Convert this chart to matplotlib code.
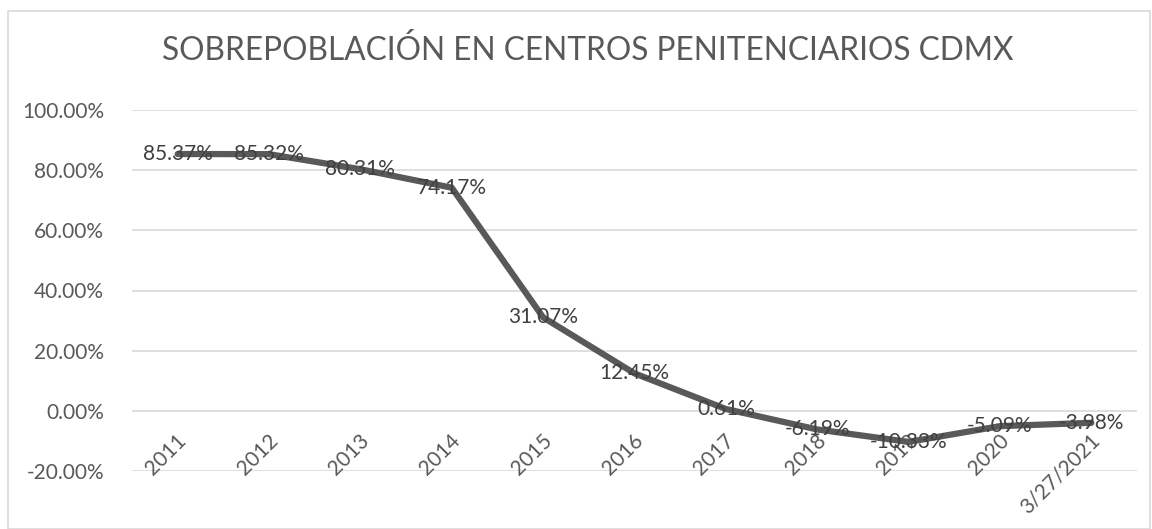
import matplotlib
matplotlib.use("Agg")
import matplotlib.pyplot as plt
from matplotlib.patches import Rectangle

categories = ["2011", "2012", "2013", "2014", "2015", "2016", "2017", "2018", "2019", "2020", "3/27/2021"]
values = [85.37, 85.32, 80.31, 74.17, 31.07, 12.45, 0.61, -6.19, -10.33, -5.09, -3.98]
yticks = [-20, 0, 20, 40, 60, 80, 100]
title = "SOBREPOBLACIÓN EN CENTROS PENITENCIARIOS CDMX"

W, H = 1152, 529
fig = plt.figure(figsize=(W / 100, H / 100), dpi=100)
fig.patch.set_facecolor("white")
fig.patches.append(Rectangle((8 / W, 0.5 / H), (W - 10) / W, (H - 11) / H, transform=fig.transFigure,
                             fill=False, edgecolor="#d9d9d9", linewidth=1.2))

ax = fig.add_axes([132 / W, 1 - 471 / H, (1137 - 132) / W, (471 - 110) / H])
x = list(range(len(categories)))
ax.plot(x, values, color="#595959", linewidth=4.5, solid_capstyle="round", solid_joinstyle="round", zorder=3)
ax.set_xlim(-0.5, len(categories) - 0.5)
ax.set_ylim(-20, 100)
ax.set_yticks(yticks)
ax.set_yticklabels([f"{v:.2f}%" for v in yticks], fontfamily="Lato", fontsize=15, color="#595959")
ax.tick_params(axis="y", length=0, pad=20)
ax.set_xticks([])
ax.grid(axis="y", color="#d9d9d9", linewidth=1.2)
ax.set_axisbelow(True)
for s in ax.spines.values():
    s.set_visible(False)

for xi, v in zip(x, values):
    ax.text(xi, v, f"{v:.2f}%", ha="center", va="center", fontfamily="Lato", fontsize=15,
            color="#404040", zorder=4)

for xi, c in zip(x, categories):
    ax.annotate(c, xy=(xi, 0), xytext=(-1, -14), textcoords="offset points",
                ha="right", va="top", rotation=45, rotation_mode="anchor",
                fontfamily="Lato", fontsize=15, color="#595959", annotation_clip=False)

fig.text(588 / W, 1 - 50 / H, title, ha="center", va="center", fontfamily="Lato",
         fontsize=22.8, color="#595959")

fig.savefig("out.png", dpi=100)
